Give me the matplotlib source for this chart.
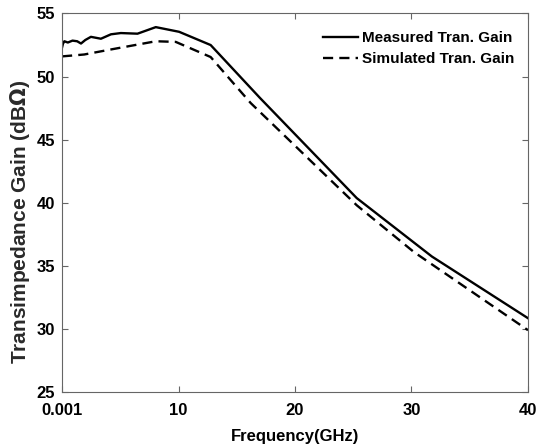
import numpy as np
import matplotlib
matplotlib.use("Agg")
import matplotlib.pyplot as plt

plt.rcParams['font.family'] = ['Liberation Sans', 'DejaVu Sans']
plt.rcParams['font.weight'] = 'bold'

# Data
freq_meas = [0.001, 0.08, 0.2, 0.5, 0.9, 1.3, 1.63, 2.0, 2.48, 3.34, 4.2, 5.05, 6.48, 8.05, 10.05, 12.76, 17.0, 25.3, 31.75, 40.0]
gain_meas = [52.3, 52.6, 52.8, 52.7, 52.85, 52.8, 52.62, 52.9, 53.15, 53.0, 53.35, 53.45, 53.4, 53.92, 53.55, 52.5, 48.3, 40.37, 35.74, 30.85]
freq_sim = [0.001, 1.9, 4.2, 8.05, 9.76, 12.76, 14.5, 16.2, 25.3, 30.2, 40.0]
gain_sim = [51.6, 51.75, 52.15, 52.8, 52.75, 51.55, 49.7, 47.9, 39.8, 36.1, 29.9]

fig, ax = plt.subplots(figsize=(5.46, 4.44), dpi=100)
fig.subplots_adjust(left=0.1136, right=0.967, top=0.9696, bottom=0.1171)

ax.plot(freq_meas, gain_meas, color='black', lw=1.7, label='Measured Tran. Gain')
ax.plot(freq_sim, gain_sim, color='black', lw=1.7, ls=(0, (4.3, 2.6)), label='Simulated Tran. Gain')

ax.set_xlim(0.001, 40)
ax.set_ylim(25, 55)
ax.set_xticks([0.001, 10, 20, 30, 40])
ax.set_xticklabels(['0.001', '10', '20', '30', '40'])
ax.set_yticks(np.arange(25, 56, 5))
ax.tick_params(direction='in', top=True, right=True, labelsize=12, color='#666666', length=4)
ax.tick_params(axis='x', pad=8)
ax.tick_params(axis='y', pad=5)
for s in ax.spines.values():
    s.set_color('#666666')
    s.set_linewidth(0.8)

ax.set_xlabel('Frequency(GHz)', fontsize=12, fontweight='bold', labelpad=8)
ax.set_ylabel('Transimpedance Gain (dB$\\Omega$)', fontsize=15, fontweight='bold', color='#2a2a2a')
ax.yaxis.set_label_coords(-0.064, 0.45)

leg = ax.legend(loc='upper right', bbox_to_anchor=(0.991, 0.977), frameon=False, fontsize=11,
                handlelength=2.3, handletextpad=0.25, borderaxespad=0.2, borderpad=0.4,
                labelspacing=0.45)
for t in leg.get_texts():
    t.set_fontweight('bold')

fig.savefig('out.png', dpi=100)
